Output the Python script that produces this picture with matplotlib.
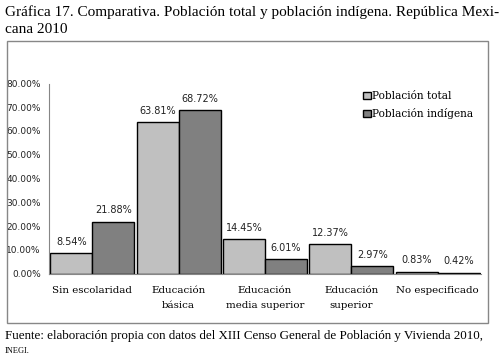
import matplotlib.pyplot as plt
from matplotlib.patches import Rectangle

categorias = ["Sin escolaridad", "Educación\nbásica", "Educación\nmedia superior",
              "Educación\nsuperior", "No especificado"]
poblacion_total = [8.54, 63.81, 14.45, 12.37, 0.83]
poblacion_indigena = [21.88, 68.72, 6.01, 2.97, 0.42]
etiquetas_y = ["0.00%", "10.00%", "20.00%", "30.00%", "40.00%",
               "50.00%", "60.00%", "70.00%", "80.00%"]

W, H = 503, 362
fig = plt.figure(figsize=(W / 100, H / 100), dpi=100)

# axes in pixel positions of the reference
x0, x1 = 49, 481
y_top, y_bot = 83.5, 273.5
ax = fig.add_axes([x0 / W, 1 - y_bot / H, (x1 - x0) / W, (y_bot - y_top) / H])

# frame around the chart
fig.patches.append(Rectangle((7 / W, 1 - 323 / H), 481 / W, 282 / H,
                             transform=fig.transFigure, fill=False,
                             edgecolor="#878787", linewidth=1))

x = list(range(len(categorias)))
w = 0.485
b1 = ax.bar([i - w / 2 for i in x], poblacion_total, w, color="#c0c0c0",
            edgecolor="black", linewidth=1, label="Población total")
b2 = ax.bar([i + w / 2 for i in x], poblacion_indigena, w, color="#808080",
            edgecolor="black", linewidth=1, label="Población indígena")

for bars, vals in ((b1, poblacion_total), (b2, poblacion_indigena)):
    for r, v in zip(bars, vals):
        ax.annotate(f"{v:.2f}%", (r.get_x() + r.get_width() / 2, v),
                    xytext=(0, 4.5), textcoords="offset points", ha="center",
                    va="bottom", fontsize=7, family="DejaVu Sans", color="#222222")

ax.set_xlim(-0.5, 4.5)
ax.set_ylim(0, 80)
ax.set_yticks(range(0, 81, 10))
ax.set_yticklabels(etiquetas_y, fontsize=6.5, family="DejaVu Sans", color="#222222")
ax.set_xticks(x)
ax.set_xticklabels(categorias, fontsize=7.4, family="DejaVu Serif", linespacing=1.85)
ax.tick_params(length=0, pad=6)
ax.tick_params(axis="x", pad=9)
for s in ("top", "right"):
    ax.spines[s].set_visible(False)
for s in ("left", "bottom"):
    ax.spines[s].set_color("#868686")

leg = ax.legend(loc="upper left", bbox_to_anchor=(0.728, 0.958), frameon=False,
                prop={"family": "DejaVu Serif", "size": 7.6}, handlelength=0.7,
                handleheight=0.7, handletextpad=0.15, labelspacing=0.65,
                borderaxespad=0, borderpad=0)

fig.text(5 / W, 1 - 5 / H, "Gráfica 17. Comparativa. Población total y población indígena. República Mexi-\ncana 2010",
         ha="left", va="top", fontsize=11, family="Liberation Serif", linespacing=1.45)
fig.text(5 / W, 1 - 330 / H,
         "Fuente: elaboración propia con datos del XIII Censo General de Población y Vivienda 2010,",
         ha="left", va="top", fontsize=9.4, family="Liberation Serif")
fig.text(5 / W, 1 - 347 / H, "INEGI.", ha="left", va="top", fontsize=6,
         family="Liberation Serif")

fig.savefig("out.png", dpi=100)
